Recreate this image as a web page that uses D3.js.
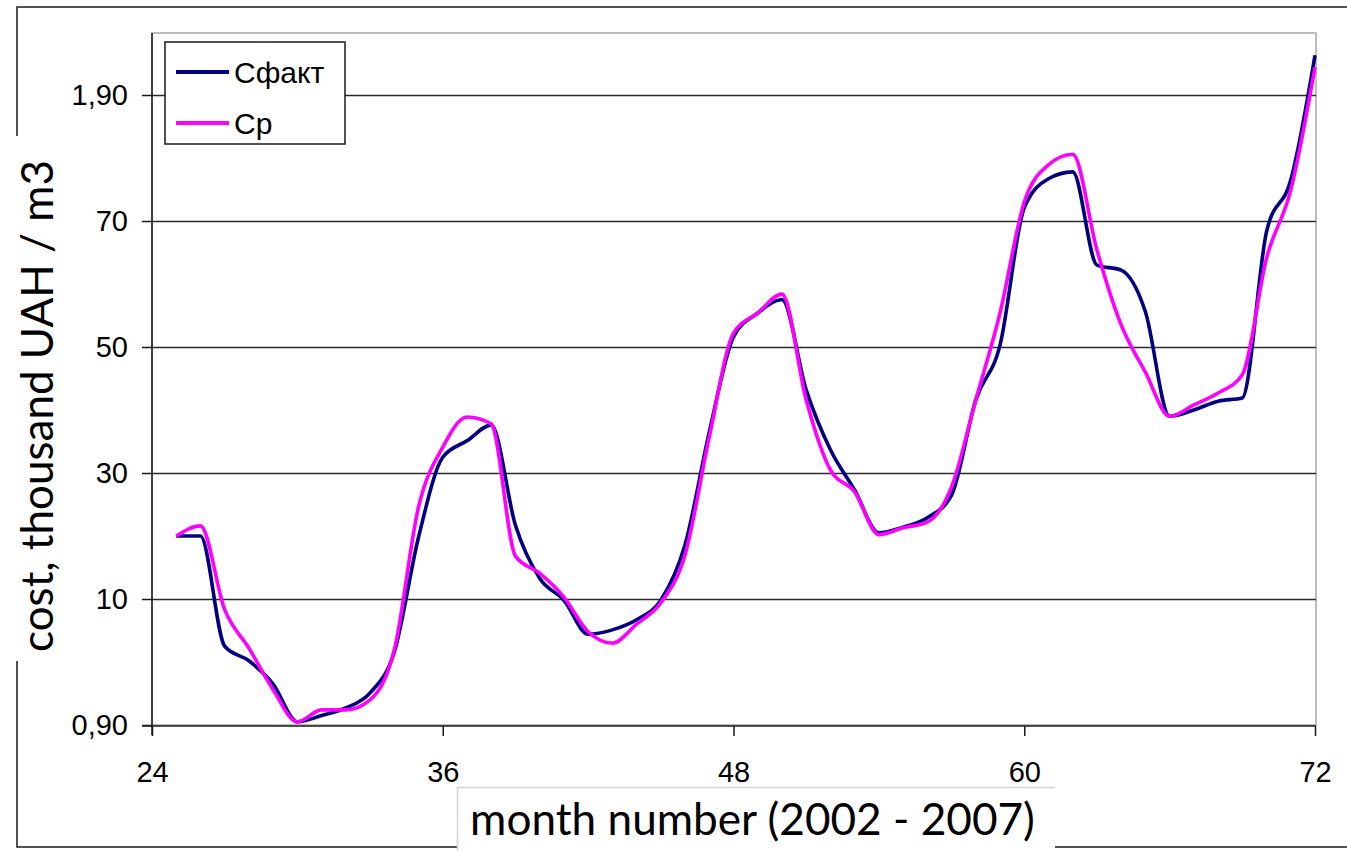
<!DOCTYPE html>
<html>
<head>
<meta charset="utf-8">
<script src="https://cdn.jsdelivr.net/npm/d3@7"></script>
<style>
  html, body { margin: 0; padding: 0; background: #fff; }
  svg { display: block; }
</style>
</head>
<body>
<svg id="chart" width="1347" height="851"></svg>
<script>
// ---- data ----
const months = [25,26,27,28,29,30,31,32,33,34,35,36,37,38,39,40,41,42,43,44,45,46,47,48,
                49,50,51,52,53,54,55,56,57,58,59,60,61,62,63,64,65,66,67,68,69,70,71,72];
const cFact = [1.20,1.20,1.025,1.002,0.965,0.905,0.915,0.927,0.951,1.016,1.198,1.325,
               1.351,1.376,1.217,1.133,1.098,1.044,1.051,1.067,1.098,1.186,1.365,1.516,
               1.554,1.575,1.432,1.337,1.273,1.205,1.214,1.229,1.265,1.416,1.503,1.721,
               1.767,1.778,1.630,1.622,1.556,1.390,1.400,1.414,1.419,1.683,1.765,1.963];
const cP    = [1.20,1.216,1.083,1.022,0.956,0.905,0.924,0.924,0.940,1.019,1.246,1.341,
               1.389,1.378,1.168,1.141,1.103,1.048,1.030,1.060,1.094,1.170,1.357,1.522,
               1.554,1.584,1.416,1.305,1.270,1.202,1.213,1.222,1.278,1.416,1.554,1.730,
               1.789,1.806,1.654,1.535,1.460,1.390,1.408,1.427,1.456,1.641,1.749,1.944];
const seriesNames = ["Сфакт", "Ср"];
const xTickValues = [24, 36, 48, 60, 72];
const yTickValues = [0.9, 1.1, 1.3, 1.5, 1.7, 1.9];
const yTickLabels = ["0,90", "10", "30", "50", "70", "1,90"];
const xTitle = "month number (2002 - 2007)";
const yTitle = "cost, thousand UAH / m3";

// ---- layout ----
const svg = d3.select("#chart");
const plot = { left: 152, right: 1315, top: 33, bottom: 725 };
const x = d3.scaleLinear().domain([24, 72]).range([plot.left, plot.right]);
const y = d3.scaleLinear().domain([0.9, 2.0]).range([plot.bottom, plot.bottom - 1.1 * 630]);
const colors = ["#000080", "#FF00FF"];
const tickFont = "'Liberation Sans', Arial, sans-serif";
const titleFont = "Lato, 'Open Sans', sans-serif";

// outer chart frame
svg.append("rect").attr("x", 17).attr("y", 7).attr("width", 1400).attr("height", 840)
  .attr("fill", "#fff").attr("stroke", "#1a1a1a").attr("stroke-width", 1.5);

// plot area border (light)
svg.append("rect").attr("x", plot.left).attr("y", plot.top)
  .attr("width", plot.right + 1 - plot.left).attr("height", plot.bottom - plot.top)
  .attr("fill", "#fff").attr("stroke", "#a6a6a6").attr("stroke-width", 1.5);

// gridlines
svg.append("g").selectAll("line").data(yTickValues.slice(1)).join("line")
  .attr("x1", plot.left).attr("x2", plot.right + 1)
  .attr("y1", d => Math.round(y(d)) + 0.5).attr("y2", d => Math.round(y(d)) + 0.5)
  .attr("stroke", "#2a2a2a").attr("stroke-width", 1.5);

// y axis
const yAxis = d3.axisLeft(y).tickValues(yTickValues)
  .tickFormat((d, i) => yTickLabels[i]).tickSize(10).tickPadding(14);
const gy = svg.append("g").attr("transform", `translate(${plot.left},0)`).call(yAxis);
gy.select(".domain").remove();
gy.selectAll(".tick line").attr("stroke", "#1a1a1a").attr("stroke-width", 1.5);
gy.selectAll(".tick text").attr("font-family", tickFont).attr("font-size", 29).attr("fill", "#000");

// x axis
const xAxis = d3.axisBottom(x).tickValues(xTickValues).tickSize(10).tickPadding(25).tickFormat(d3.format("d"));
const gx = svg.append("g").attr("transform", `translate(0,${plot.bottom + 1})`).call(xAxis);
gx.select(".domain").remove();
gx.selectAll(".tick line").attr("stroke", "#1a1a1a").attr("stroke-width", 1.5);
gx.selectAll(".tick text").attr("font-family", tickFont).attr("font-size", 29).attr("fill", "#000");

// axis lines
svg.append("line").attr("x1", plot.left).attr("x2", plot.left)
  .attr("y1", plot.top).attr("y2", plot.bottom + 10)
  .attr("stroke", "#1a1a1a").attr("stroke-width", 1.5);
svg.append("line").attr("x1", plot.left - 10).attr("x2", plot.right + 1)
  .attr("y1", plot.bottom + 1).attr("y2", plot.bottom + 1)
  .attr("stroke", "#1a1a1a").attr("stroke-width", 1.5);

// series lines
const line = d3.line().curve(d3.curveMonotoneX).x(d => x(d[0])).y(d => y(d[1]));
[cFact, cP].forEach((vals, i) => {
  svg.append("path").datum(months.map((m, j) => [m, vals[j]]))
    .attr("fill", "none").attr("stroke", colors[i]).attr("stroke-width", 3.6)
    .attr("stroke-linejoin", "round").attr("d", line);
});

// legend
const lg = svg.append("g");
lg.append("rect").attr("x", 165).attr("y", 42).attr("width", 180).attr("height", 102)
  .attr("fill", "#fff").attr("stroke", "#1a1a1a").attr("stroke-width", 1.5);
seriesNames.forEach((name, i) => {
  const ly = 72 + i * 51;
  lg.append("line").attr("x1", 176).attr("x2", 229).attr("y1", ly).attr("y2", ly)
    .attr("stroke", colors[i]).attr("stroke-width", 4);
  lg.append("text").attr("x", 234).attr("y", ly + 10.5).text(name)
    .attr("font-family", tickFont).attr("font-size", 30).attr("fill", "#000");
});

// y axis title (gap in frame)
svg.append("rect").attr("x", 5).attr("y", 136).attr("width", 75).attr("height", 525).attr("fill", "#fff");
const yt = svg.append("text").attr("transform", "translate(53,406) rotate(-90)")
  .attr("text-anchor", "middle").attr("font-family", titleFont).attr("font-size", 40)
  .attr("fill", "#000").text(yTitle);
{
  const w = yt.node().getComputedTextLength();
  yt.attr("font-size", 40 * 492 / w);
}

// x axis title box (light top and left edges only)
svg.append("rect").attr("x", 457).attr("y", 787).attr("width", 598).attr("height", 70).attr("fill", "#fff");
svg.append("path").attr("d", "M457.5,851 V787.5 H1055")
  .attr("fill", "none").attr("stroke", "#d4d4d4").attr("stroke-width", 1.5);
const xt = svg.append("text").attr("x", 752.5).attr("y", 835)
  .attr("text-anchor", "middle").attr("font-family", titleFont).attr("font-size", 40)
  .attr("fill", "#000").text(xTitle);
{
  const w = xt.node().getComputedTextLength();
  xt.attr("font-size", 40 * 565 / w);
}
</script>
</body>
</html>
